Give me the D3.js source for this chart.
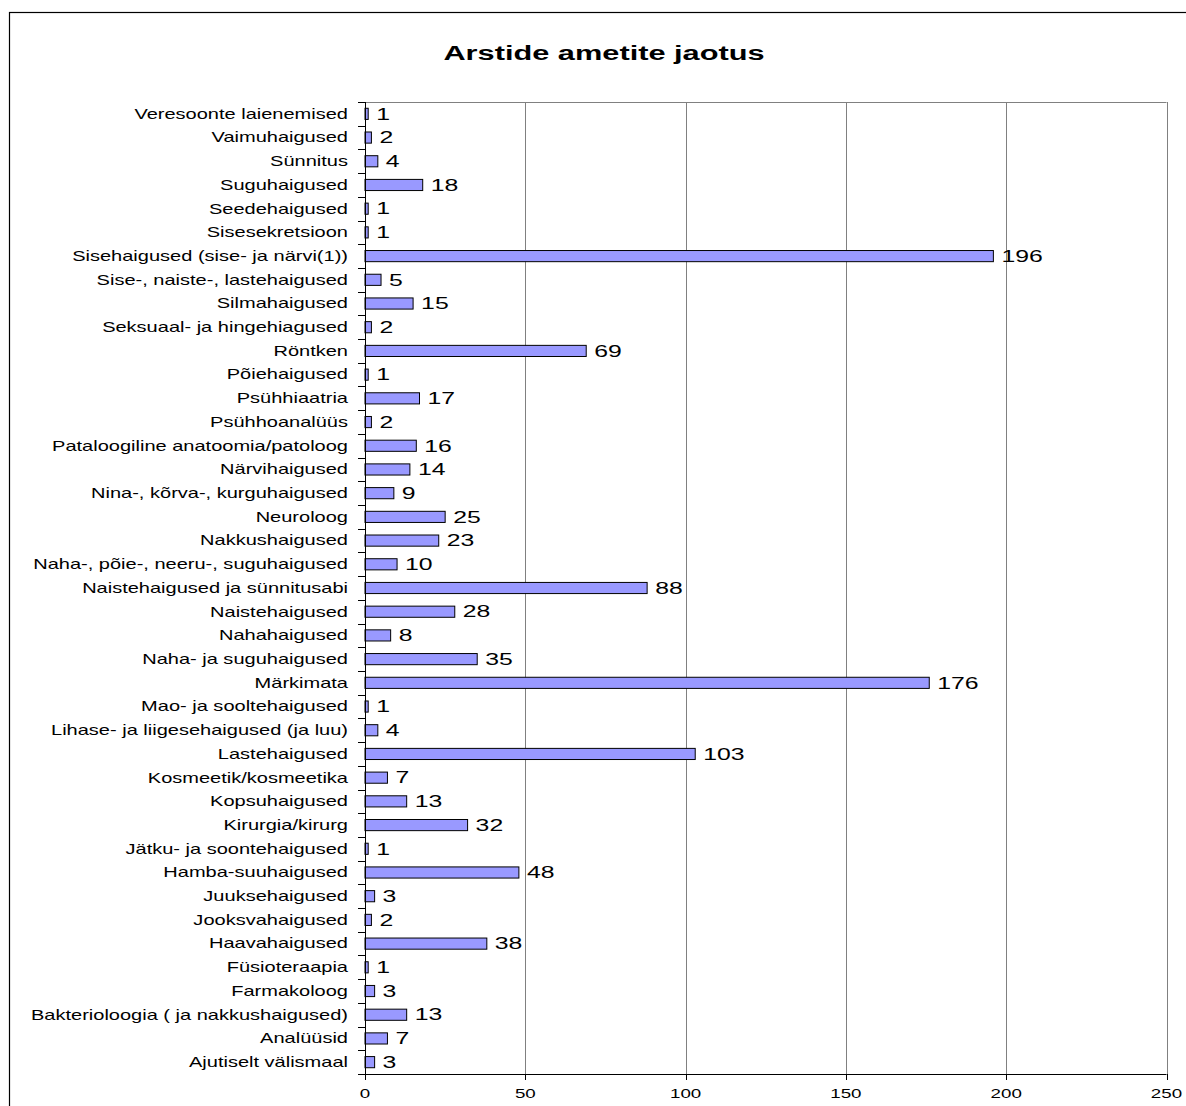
<!DOCTYPE html>
<html>
<head>
<meta charset="utf-8">
<script src="https://cdn.jsdelivr.net/npm/d3@7"></script>
<style>
  body { margin: 0; background: #fff; }
  svg { display: block; }
  text { font-family: "Liberation Sans", Arial, sans-serif; fill: #000; }
</style>
</head>
<body>
<svg id="chart" width="1186" height="1106"></svg>
<script>
// Occupations of physicians, listed top to bottom
const categories = [
  "Veresoonte laienemised", "Vaimuhaigused", "Sünnitus", "Suguhaigused",
  "Seedehaigused", "Sisesekretsioon", "Sisehaigused (sise- ja närvi(1))",
  "Sise-, naiste-, lastehaigused", "Silmahaigused", "Seksuaal- ja hingehiagused",
  "Röntken", "Põiehaigused", "Psühhiaatria", "Psühhoanalüüs",
  "Pataloogiline anatoomia/patoloog", "Närvihaigused", "Nina-, kõrva-, kurguhaigused",
  "Neuroloog", "Nakkushaigused", "Naha-, põie-, neeru-, suguhaigused",
  "Naistehaigused ja sünnitusabi", "Naistehaigused", "Nahahaigused",
  "Naha- ja suguhaigused", "Märkimata", "Mao- ja sooltehaigused",
  "Lihase- ja liigesehaigused (ja luu)", "Lastehaigused", "Kosmeetik/kosmeetika",
  "Kopsuhaigused", "Kirurgia/kirurg", "Jätku- ja soontehaigused",
  "Hamba-suuhaigused", "Juuksehaigused", "Jooksvahaigused", "Haavahaigused",
  "Füsioteraapia", "Farmakoloog", "Bakterioloogia ( ja nakkushaigused)",
  "Analüüsid", "Ajutiselt välismaal"
];
const counts = [
  1, 2, 4, 18,
  1, 1, 196,
  5, 15, 2,
  69, 1, 17, 2,
  16, 14, 9,
  25, 23, 10,
  88, 28, 8,
  35, 176, 1,
  4, 103, 7,
  13, 32, 1,
  48, 3, 2, 38,
  1, 3, 13,
  7, 3
];
const xTicks = [0, 50, 100, 150, 200, 250];
const title = "Arstide ametite jaotus";

const svg = d3.select("#chart");
const plot = { left: 365, right: 1166.5, top: 102, bottom: 1074 };

// Outer chart frame
svg.append("rect")
  .attr("x", 9.5).attr("y", 12.5)
  .attr("width", 1300).attr("height", 1200)
  .attr("fill", "none").attr("stroke", "#000").attr("stroke-width", 1.2);

const x = d3.scaleLinear().domain([0, 250]).range([plot.left, plot.right]);
const y = d3.scaleBand().domain(categories)
  .range([plot.top, plot.bottom]).paddingInner(0.53).paddingOuter(0.265);
const yOuter = d3.scaleBand().domain(categories).range([plot.top, plot.bottom]);

// Horizontally stretched text helper
function label(parent, tx, ty, str, size, anchor, sx, weight) {
  return parent.append("text")
    .attr("transform", `translate(${tx},${ty}) scale(${sx},1)`)
    .attr("text-anchor", anchor)
    .attr("dominant-baseline", "central")
    .attr("font-size", size)
    .attr("font-weight", weight || "normal")
    .text(str);
}

// Title
label(svg, 604, 53, title, 20.5, "middle", 1.5, "bold");

// Plot frame top edge and vertical gridlines
svg.append("line")
  .attr("x1", plot.left).attr("x2", plot.right)
  .attr("y1", plot.top + 0.5).attr("y2", plot.top + 0.5)
  .attr("stroke", "#808080").attr("stroke-width", 1);
svg.append("g").selectAll("line").data(xTicks.filter(d => d > 0)).join("line")
  .attr("x1", d => Math.round(x(d)) + 0.5).attr("x2", d => Math.round(x(d)) + 0.5)
  .attr("y1", plot.top).attr("y2", plot.bottom)
  .attr("stroke", "#808080").attr("stroke-width", 1);

// Bars
svg.append("g").selectAll("rect").data(categories).join("rect")
  .attr("x", x(0))
  .attr("y", d => y(d))
  .attr("width", (d, i) => x(counts[i]) - x(0))
  .attr("height", y.bandwidth())
  .attr("fill", "#9999FF")
  .attr("stroke", "#000").attr("stroke-width", 1);

// Value labels
const vals = svg.append("g");
categories.forEach((c, i) => {
  label(vals, x(counts[i]) + 8, y(c) + y.bandwidth() / 2, counts[i], 16, "start", 1.55);
});

// Category axis with ticks on band boundaries
const yAxisG = svg.append("g");
yAxisG.append("line")
  .attr("x1", plot.left + 0.5).attr("x2", plot.left + 0.5)
  .attr("y1", plot.top).attr("y2", plot.bottom)
  .attr("stroke", "#000");
const bounds = categories.map(c => yOuter(c)).concat([plot.bottom]);
yAxisG.selectAll("line.tick").data(bounds).join("line")
  .attr("class", "tick")
  .attr("x1", plot.left - 7).attr("x2", plot.left)
  .attr("y1", d => Math.round(d) + 0.5).attr("y2", d => Math.round(d) + 0.5)
  .attr("stroke", "#000");
categories.forEach(c => {
  label(yAxisG, plot.left - 17, yOuter(c) + yOuter.bandwidth() / 2, c, 14, "end", 1.43);
});

// Value axis
const xAxisG = svg.append("g");
xAxisG.append("line")
  .attr("x1", plot.left).attr("x2", plot.right)
  .attr("y1", plot.bottom + 0.5).attr("y2", plot.bottom + 0.5)
  .attr("stroke", "#000");
xAxisG.selectAll("line.tick").data(xTicks).join("line")
  .attr("class", "tick")
  .attr("x1", d => Math.round(x(d)) + 0.5).attr("x2", d => Math.round(x(d)) + 0.5)
  .attr("y1", plot.bottom).attr("y2", plot.bottom + 6)
  .attr("stroke", "#000");
xTicks.forEach(t => {
  label(xAxisG, x(t), 1094, t, 12.5, "middle", 1.5);
});
</script>
</body>
</html>
